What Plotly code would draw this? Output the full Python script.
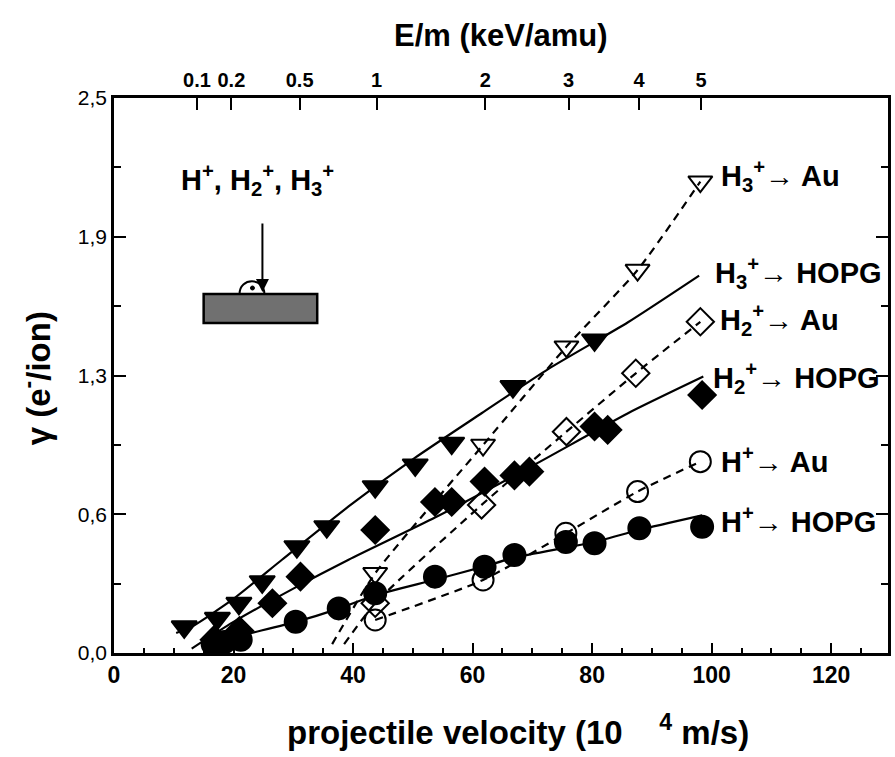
import plotly.graph_objects as go
import numpy as np

# ---------------- data (velocity in 10^4 m/s, yield in e-/ion) ----------------
# H+ -> HOPG (filled circles) and its fit curve
hp_hopg_v = [16.5, 18.5, 21.2, 30.4, 37.6, 43.7, 53.7, 62.0, 67.0, 75.6, 80.4, 87.9, 98.4]
hp_hopg_y = [0.04, 0.05, 0.06, 0.141, 0.201, 0.269, 0.344, 0.389, 0.441, 0.50, 0.494, 0.562, 0.569]
hp_hopg_fit_v = [15.0, 20.0, 30.4, 37.6, 43.7, 53.7, 62.0, 67.0, 75.6, 80.4, 87.9, 98.4]
hp_hopg_fit_y = [0.03, 0.07, 0.14, 0.20, 0.26, 0.33, 0.39, 0.43, 0.475, 0.50, 0.555, 0.62]

# H+ -> Au (open circles), dashed
hp_au_v = [43.7, 61.75, 75.6, 87.6, 98.1]
hp_au_y = [0.149, 0.329, 0.539, 0.727, 0.862]

# H2+ -> HOPG (filled diamonds) and fit
h2_hopg_v = [11.8, 16.8, 21.0, 26.5, 31.2, 43.7, 53.7, 56.5, 62.0, 67.0, 69.5, 80.4, 82.6, 98.4]
h2_hopg_y = [-0.005, 0.06, 0.10, 0.224, 0.344, 0.554, 0.68, 0.68, 0.772, 0.80, 0.817, 1.02, 1.005, 1.162]
h2_hopg_fit_v = [13.0, 20.0, 30.0, 39.25, 53.7, 69.8, 86.0, 98.6]
h2_hopg_fit_y = [0.02, 0.14, 0.29, 0.42, 0.61, 0.84, 1.08, 1.245]

# H2+ -> Au (open diamonds), dashed
h2_au_v = [43.7, 61.5, 75.7, 87.3, 98.1]
h2_au_y = [0.224, 0.667, 0.997, 1.26, 1.492]
h2_au_start = (38.5, 0.04)

# H3+ -> HOPG (filled down triangles) and fit
h3_hopg_v = [11.75, 17.3, 20.9, 24.8, 30.6, 35.6, 43.7, 50.4, 56.5, 66.75, 80.4]
h3_hopg_y = [0.118, 0.156, 0.224, 0.321, 0.479, 0.569, 0.749, 0.847, 0.945, 1.20, 1.41]
h3_hopg_fit_v = [10.4, 13.1, 19.8, 28.1, 39.25, 50.4, 61.5, 72.7, 86.0, 97.9]
h3_hopg_fit_y = [0.09, 0.12, 0.24, 0.42, 0.66, 0.88, 1.08, 1.28, 1.49, 1.70]

# H3+ -> Au (open down triangles), dashed
h3_au_v = [43.7, 61.75, 75.7, 87.6, 98.1]
h3_au_y = [0.359, 0.937, 1.38, 1.725, 2.123]
h3_au_start = (36.5, 0.04)

# top axis: energy per mass (keV/amu) -> velocity (10^4 m/s)
top_E = [0.1, 0.2, 0.5, 1, 2, 3, 4, 5]
top_labels = ["0.1", "0.2", "0.5", "1", "2", "3", "4", "5"]

y_tickvals = [0.0, 0.625, 1.25, 1.875, 2.5]
y_ticktext = ["0,0", "0,6", "1,3", "1,9", "2,5"]
y_minor = [0.3125, 0.9375, 1.5625, 2.1875]
x_tickvals = [0, 20, 40, 60, 80, 100, 120]

series_labels = [
    ("H<sub>3</sub><sup>+</sup>\u2192 Au", 2.15),
    ("H<sub>3</sub><sup>+</sup>\u2192 HOPG", 1.71),
    ("H<sub>2</sub><sup>+</sup>\u2192 Au", 1.50),
    ("H<sub>2</sub><sup>+</sup>\u2192 HOPG", 1.24),
    ("H<sup>+</sup>\u2192 Au", 0.87),
    ("H<sup>+</sup>\u2192 HOPG", 0.60),
]
label_px = [721, 715, 720, 713, 721, 721]

# ---------------- figure ----------------
SANS = "Liberation Sans, Arial, Helvetica, sans-serif"
L, R, T, B = 114, 891, 98, 653
W, H = 895, 757
XR = [0, (R - L) / 6.0]

def px(xp):
    return (xp - L) / (R - L)

def py(yp):
    return (B - yp) / (B - T)

fig = go.Figure()

def line(v, y, dash):
    fig.add_trace(go.Scatter(x=v, y=y, mode="lines",
                             line=dict(color="black", width=2.2, dash=dash, shape="spline",
                                       smoothing=0.6),
                             showlegend=False, hoverinfo="skip"))

def pts(v, y, symbol, size):
    fig.add_trace(go.Scatter(x=v, y=y, mode="markers",
                             marker=dict(symbol=symbol, size=size, color="black",
                                         line=dict(color="black", width=2)),
                             showlegend=False, cliponaxis=False))

DASH = "8px,6px"
line(hp_hopg_fit_v, hp_hopg_fit_y, "solid")
line(h2_hopg_fit_v, h2_hopg_fit_y, "solid")
line(h3_hopg_fit_v, h3_hopg_fit_y, "solid")
line(hp_au_v, hp_au_y, DASH)
line([h2_au_start[0]] + h2_au_v, [h2_au_start[1]] + h2_au_y, DASH)
line([h3_au_start[0]] + h3_au_v, [h3_au_start[1]] + h3_au_y, DASH)

pts(hp_au_v, hp_au_y, "circle-open", 21)
pts(h2_au_v, h2_au_y, "diamond-open", 21)
pts(h3_au_v, h3_au_y, "triangle-down-open", 21)
pts(hp_hopg_v, hp_hopg_y, "circle", 22)
pts(h2_hopg_v, h2_hopg_y, "diamond", 21)
pts(h3_hopg_v, h3_hopg_y, "triangle-down", 22)

# invisible trace on top axis so it renders
fig.add_trace(go.Scatter(x=[0], y=[0], xaxis="x2", mode="markers",
                         marker=dict(opacity=0), showlegend=False, hoverinfo="skip"))

for (txt, yv), xp in zip(series_labels, label_px):
    fig.add_annotation(x=(xp - L) / 6.0, y=yv, text=txt, showarrow=False,
                       xanchor="left", yanchor="middle",
                       font=dict(family=SANS, size=29, color="black", weight="bold"))

fig.update_layout(
    width=W, height=H,
    margin=dict(l=L, r=W - R, t=T, b=H - B),
    plot_bgcolor="white", paper_bgcolor="white",
    xaxis=dict(range=XR, showline=True, linecolor="black", linewidth=2.5,
               ticks="inside", ticklen=10, tickwidth=2, tickcolor="black",
               tickvals=x_tickvals, showgrid=False, zeroline=False, tickangle=0,
               tickfont=dict(family=SANS, size=23, color="black", weight="bold"),
               minor=dict(ticks="inside", ticklen=5, tickwidth=1.5, dtick=5, tick0=0,
                          tickcolor="black")),
    xaxis2=dict(range=XR, overlaying="x", side="top", showline=True, linecolor="black",
                linewidth=2.5, ticks="inside", ticklen=12, tickwidth=2, tickcolor="black",
                tickvals=[43.92 * np.sqrt(e) for e in top_E], ticktext=top_labels,
                showgrid=False, zeroline=False, tickangle=0,
                tickfont=dict(family=SANS, size=20, color="black", weight="bold")),
    yaxis=dict(range=[0, 2.5], showline=True, linecolor="black", linewidth=2.5,
               mirror="ticks", ticks="inside", ticklen=12, tickwidth=2, tickcolor="black",
               tickvals=y_tickvals, ticktext=y_ticktext, showgrid=False, zeroline=False,
               tickfont=dict(family=SANS, size=21, color="black"),
               minor=dict(ticks="inside", ticklen=7, tickwidth=1.5,
                          tickvals=y_minor, tickcolor="black")),
)

# axis titles
fig.add_annotation(xref="paper", yref="paper", x=px(502), y=py(35), showarrow=False,
                   xanchor="center", yanchor="middle", text="E/m (keV/amu)",
                   font=dict(family=SANS, size=31, color="black", weight="bold"))
fig.add_annotation(xref="paper", yref="paper", x=px(520), y=py(730), showarrow=False,
                   xanchor="center", yanchor="middle",
                   text="projectile velocity (10    <sup>4</sup> m/s)",
                   font=dict(family=SANS, size=33, color="black", weight="bold"))
fig.add_annotation(xref="paper", yref="paper", x=px(36), y=py(378), showarrow=False,
                   xanchor="center", yanchor="middle",
                   textangle=-90, text="\u03b3 (e<sup>-</sup>/ion)",
                   font=dict(family=SANS, size=33, color="black", weight="bold"))

# inset sketch (ions hitting a surface)
fig.add_annotation(xref="paper", yref="paper", x=px(258), y=py(180),
                   xanchor="center", yanchor="middle",
                   text="H<sup>+</sup>, H<sub>2</sub><sup>+</sup>, H<sub>3</sub><sup>+</sup>",
                   showarrow=False, font=dict(family=SANS, size=29, color="black", weight="bold"))
fig.add_annotation(xref="paper", yref="paper", x=px(263), y=py(292), ax=0, ay=-70,
                   showarrow=True, arrowhead=2, arrowsize=1.3, arrowwidth=2,
                   arrowcolor="black", text="")
fig.add_shape(type="rect", xref="paper", yref="paper",
              x0=px(204), x1=px(318), y0=py(323), y1=py(294),
              line=dict(color="black", width=2.5), fillcolor="#707070")
fig.add_shape(type="path", xref="paper", yref="paper",
              path=f"M {px(240)} {py(294)} C {px(240)} {py(277)} {px(265)} {py(277)} {px(265)} {py(294)}",
              line=dict(color="black", width=2))
fig.add_shape(type="circle", xref="paper", yref="paper",
              x0=px(251), x1=px(255), y0=py(290), y1=py(286),
              line=dict(color="black", width=1), fillcolor="black")

fig.write_html("out.html", post_script="document.body.style.margin='0';",
               config={"displayModeBar": False})
